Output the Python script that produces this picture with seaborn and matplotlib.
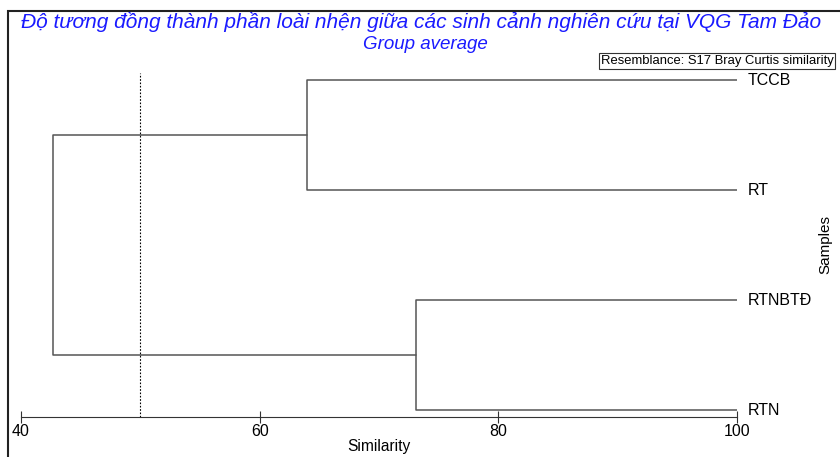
import numpy as np
import pandas as pd
import seaborn as sns
import matplotlib.pyplot as plt
from matplotlib.patches import Rectangle

# samples from top to bottom and the similarity at which they join
samples = ["TCCB", "RT", "RTNBTĐ", "RTN"]
pair_top = ["TCCB", "RT"]
pair_bottom = ["RTNBTĐ", "RTN"]
sim_top = 64.0
sim_bottom = 73.1
sim_root = 42.7
slice_level = 50
xticks = [40, 60, 80, 100]

sns.set_theme(style="white")
plt.rcParams['font.family'] = ['Liberation Sans', 'DejaVu Sans']
plt.rcParams['text.color'] = 'black'
plt.rcParams['xtick.color'] = 'black'
plt.rcParams['axes.labelcolor'] = 'black'

ypos = {s: len(samples) - 1 - i for i, s in enumerate(samples)}
y_top = (ypos[pair_top[0]] + ypos[pair_top[1]]) / 2
y_bot = (ypos[pair_bottom[0]] + ypos[pair_bottom[1]]) / 2

# dendrogram links as polylines
rows = []
def link(name, pts):
    for i, (x, y) in enumerate(pts):
        rows.append({"link": name, "order": i, "x": x, "y": y})

link("top", [(100, ypos["TCCB"]), (sim_top, ypos["TCCB"]), (sim_top, ypos["RT"]), (100, ypos["RT"])])
link("bottom", [(100, ypos["RTNBTĐ"]), (sim_bottom, ypos["RTNBTĐ"]), (sim_bottom, ypos["RTN"]), (100, ypos["RTN"])])
link("root", [(sim_top, y_top), (sim_root, y_top), (sim_root, y_bot), (sim_bottom, y_bot)])
df = pd.DataFrame(rows)

fig = plt.figure(figsize=(8.4, 4.57), dpi=100)
W, H = 840, 457
ax = fig.add_axes([21 / W, 1 - 417 / H, 716 / W, (417 - 73) / H])

sns.lineplot(data=df, x="x", y="y", units="link", estimator=None, sort=False,
             color="#555555", linewidth=1.1, ax=ax)
ax.axvline(slice_level, color="black", linestyle=(0, (1.5, 1.5)), linewidth=0.8)

ax.set_xlim(40, 100)
ax.set_ylim(-0.06, 3.064)
ax.set_xticks(xticks)
ax.set_xticklabels([str(t) for t in xticks], fontsize=11.5)
ax.set_yticks([])
ax.tick_params(axis="x", direction="inout", length=8, width=0.8, color="#333333", pad=1, bottom=True)
for side in ["top", "right", "left"]:
    ax.spines[side].set_visible(False)
ax.spines["bottom"].set_color("#333333")
ax.spines["bottom"].set_linewidth(0.8)
ax.set_xlabel("Similarity", fontsize=11.2, labelpad=0)
ax.set_ylabel("")

for s in samples:
    ax.text(100.9, ypos[s], s, fontsize=11.5, va="center", ha="left", clip_on=False)

fig.text(825 / W, 1 - 245 / H, "Samples", rotation=90, fontsize=11, ha="center", va="center")

fig.text(421 / W, 1 - 28 / H, "Độ tương đồng thành phần loài nhện giữa các sinh cảnh nghiên cứu tại VQG Tam Đảo",
         color="#1a1aff", style="italic", fontsize=15, ha="center", va="baseline")
fig.text(425 / W, 1 - 49 / H, "Group average", color="#1a1aff", style="italic",
         fontsize=13.5, ha="center", va="baseline")
fig.text(717 / W, 1 - 61 / H, "Resemblance: S17 Bray Curtis similarity", fontsize=9.4,
         ha="center", va="center",
         bbox=dict(boxstyle="square,pad=0.15", facecolor="white", edgecolor="#333333", linewidth=0.8))

fig.patches.append(Rectangle((8 / W, -0.1), 1.2, 1 - 11 / H + 0.1, transform=fig.transFigure,
                             fill=False, edgecolor="#222222", linewidth=1.5))

plt.savefig("out.png", dpi=100)
